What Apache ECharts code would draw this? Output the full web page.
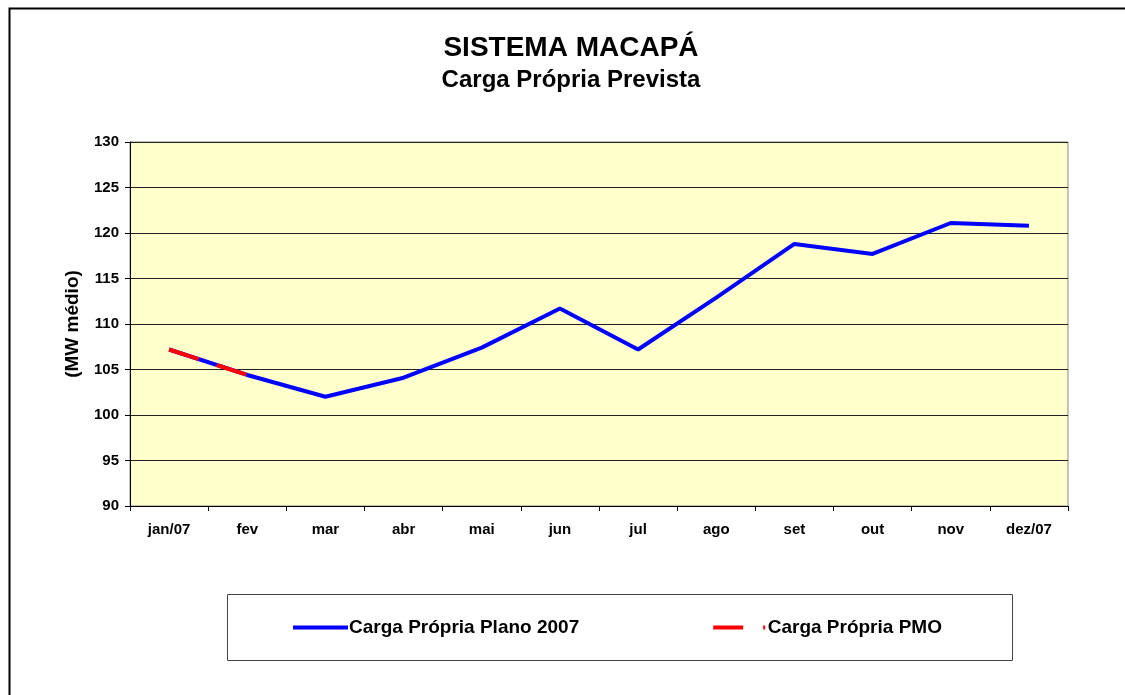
<!DOCTYPE html>
<html>
<head>
	<meta charset="utf-8">
	<title>Sistema Macapá</title>
	<script src="https://cdn.jsdelivr.net/npm/echarts@6/dist/echarts.min.js"></script>
	<style>
		html, body { margin: 0; padding: 0; background: #fff; }
		#main { width: 1125px; height: 695px; }
	</style>
</head>
<body>
	<div id="main"></div>
	<script type="text/javascript">
		// dados
		var meses = ['jan/07', 'fev', 'mar', 'abr', 'mai', 'jun', 'jul', 'ago', 'set', 'out', 'nov', 'dez/07'];
		var plano2007 = [107.2, 104.4, 102.0, 104.1, 107.4, 111.7, 107.2, 112.9, 118.8, 117.7, 121.1, 120.8];
		var pmo = [107.2, 104.4, null, null, null, null, null, null, null, null, null, null];

		var myChart = echarts.init(document.getElementById('main'));
		var fonte = '"Liberation Sans", Arial, sans-serif';

		var option = {
			backgroundColor: '#fff',
			animation: false,
			textStyle: { fontFamily: fonte },
			title: {
				text: 'SISTEMA MACAPÁ',
				subtext: 'Carga Própria Prevista',
				left: 566,
				textAlign: 'center',
				top: 29,
				itemGap: 6,
				textStyle: { fontFamily: fonte, fontWeight: 'bold', fontSize: 28, color: '#000' },
				subtextStyle: { fontFamily: fonte, fontWeight: 'bold', fontSize: 24, color: '#000' }
			},
			graphic: [
				{ type: 'rect', left: 7, top: 6, shape: { width: 1130, height: 700 },
				  style: { fill: 'none', stroke: '#000', lineWidth: 2 }, silent: true },
				{ type: 'rect', left: 225, top: 592, shape: { width: 785, height: 66 },
				  style: { fill: 'none', stroke: '#444', lineWidth: 1 }, silent: true }
			],
			legend: {
				left: 288,
				top: 613,
				itemGap: 134,
				itemWidth: 55,
				itemHeight: 4,
				textStyle: { fontFamily: fonte, fontWeight: 'bold', fontSize: 19, color: '#000', padding: [0, 0, 0, -4] },
				data: [
					{ name: 'Carga Própria Plano 2007', icon: 'rect' },
					{ name: 'Carga Própria PMO', icon: 'path://M0,0h30v4h-30z M50,0h2v4h-2z' }
				]
			},
			grid: {
				left: 130,
				right: 57,
				top: 142,
				bottom: 189,
				show: true,
				backgroundColor: '#FFFFCC',
				borderColor: '#888',
				borderWidth: 1
			},
			xAxis: {
				type: 'category',
				data: meses,
				boundaryGap: true,
				axisLine: { lineStyle: { color: '#000', width: 1 } },
				axisTick: { show: true, length: 5, lineStyle: { color: '#000' } },
				axisLabel: { color: '#000', fontWeight: 'bold', fontSize: 15, margin: 16 }
			},
			yAxis: {
				type: 'value',
				min: 90,
				max: 130,
				interval: 5,
				name: '(MW médio)',
				nameLocation: 'middle',
				nameGap: 48,
				nameTextStyle: { fontFamily: fonte, fontWeight: 'bold', fontSize: 19, color: '#000' },
				axisLine: { show: true, lineStyle: { color: '#000', width: 1 } },
				axisTick: { show: true, length: 5, lineStyle: { color: '#000' } },
				axisLabel: { color: '#000', fontWeight: 'bold', fontSize: 15, margin: 11 },
				splitLine: { lineStyle: { color: '#222', width: 1 } }
			},
			series: [
				{
					name: 'Carga Própria Plano 2007',
					type: 'line',
					data: plano2007,
					symbol: 'none',
					color: '#0000FF',
					lineStyle: { color: '#0000FF', width: 4 }
				},
				{
					name: 'Carga Própria PMO',
					type: 'line',
					data: pmo,
					symbol: 'none',
					color: '#FF0000',
					lineStyle: { color: '#FF0000', width: 4, type: [31, 19] }
				}
			]
		};

		myChart.setOption(option);
	</script>
</body>
</html>
